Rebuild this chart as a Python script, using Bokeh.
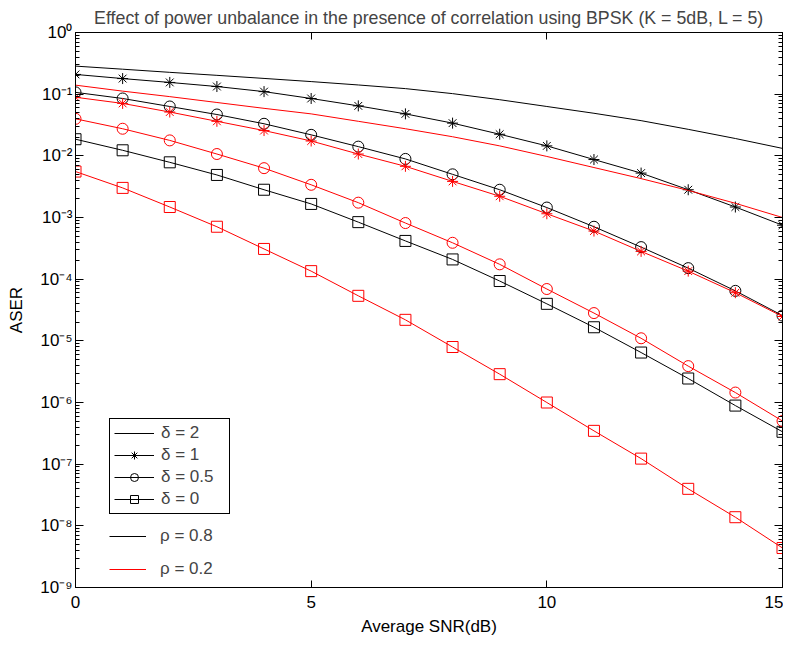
from bokeh.plotting import figure
from bokeh.models import (Range1d, LogAxis, LinearAxis, FixedTicker, Legend, LegendItem)
from bokeh.embed import file_html
from bokeh.resources import INLINE

# ---------------- data ----------------
snr_db = list(range(16))

# rho = 0.8 (black)
d2_rho08 = [0.285, 0.254, 0.226, 0.202, 0.180, 0.160, 0.141, 0.123, 0.102, 0.0813,
            0.0631, 0.0490, 0.0372, 0.0269, 0.0191, 0.0132]
d1_rho08 = [0.209, 0.179, 0.155, 0.133, 0.110, 0.0851, 0.0646, 0.0479, 0.0339, 0.0224,
            0.0145, 0.00871, 0.00525, 0.00282, 0.00148, 0.00075]
d05_rho08 = [0.107, 0.0851, 0.0631, 0.0468, 0.0331, 0.0219, 0.0141, 0.00891, 0.00501, 0.00282,
             0.00145, 0.000708, 0.000331, 0.000151, 0.0000646, 0.0000257]
d0_rho08 = [0.0186, 0.0123, 0.00785, 0.00490, 0.00282, 0.00166, 0.000841, 0.000417, 0.000209,
            0.0000933, 0.0000398, 0.0000166, 6.46e-6, 2.45e-6, 8.91e-7, 3.35e-7]

# rho = 0.2 (red)
d2_rho02 = [0.140, 0.112, 0.0912, 0.0733, 0.0589, 0.0479, 0.0363, 0.0275, 0.0204, 0.0145,
            0.00977, 0.00646, 0.00427, 0.00275, 0.00170, 0.00100]
d1_rho02 = [0.0891, 0.0708, 0.0513, 0.0363, 0.0257, 0.0174, 0.0107, 0.00676, 0.00385, 0.00221,
            0.00115, 0.000603, 0.000282, 0.000135, 0.0000603, 0.0000248]
d05_rho02 = [0.0398, 0.0275, 0.0178, 0.0107, 0.00631, 0.00339, 0.00174, 0.000813, 0.000389,
             0.000174, 0.0000692, 0.0000282, 0.0000110, 3.89e-6, 1.45e-6, 5.01e-7]
d0_rho02 = [0.00556, 0.00302, 0.00148, 0.000708, 0.000309, 0.000135, 0.0000537, 0.0000219,
            7.94e-6, 2.88e-6, 1.0e-6, 3.47e-7, 1.23e-7, 3.98e-8, 1.38e-8, 4.37e-9]

x_ticks = [0, 5, 10, 15]
y_exponents = [0, -1, -2, -3, -4, -5, -6, -7, -8, -9]
sup = {"0": "\u2070", "1": "\u00b9", "2": "\u00b2", "3": "\u00b3", "4": "\u2074", "5": "\u2075",
       "6": "\u2076", "7": "\u2077", "8": "\u2078", "9": "\u2079", "-": "\u207b"}
y_labels = ["10" + "".join(sup[c] for c in str(e)) for e in y_exponents]

title_text = "Effect of power unbalance in the presence of correlation using BPSK (K = 5dB, L = 5)"
delta_labels = ["\u03b4 = 2", "\u03b4 = 1", "\u03b4 = 0.5", "\u03b4 = 0"]
rho_labels = ["\u03c1 = 0.8", "\u03c1 = 0.2"]

FONT = "Liberation Sans"
FS = "17px"

# ---------------- figure ----------------
p = figure(width=783, height=638, y_axis_type="log",
           x_range=Range1d(0, 15), y_range=Range1d(1e-9, 1),
           output_backend="svg", toolbar_location=None,
           min_border_left=75, min_border_right=1, min_border_top=29, min_border_bottom=50)

p.title.text = title_text
p.title.align = "center"
p.title.text_font = FONT
p.title.text_font_size = "17.8px"
p.title.text_font_style = "normal"
p.title.standoff = 10
p.title.offset = 0

p.xgrid.visible = False
p.ygrid.visible = False
p.outline_line_color = "black"
p.outline_line_alpha = 1
p.background_fill_color = "white"
p.border_fill_color = "white"

decades = [10.0 ** e for e in y_exponents]
minors = [m * 10.0 ** e for e in y_exponents[1:] for m in range(2, 10)]

xa = p.xaxis[0]
xa.ticker = FixedTicker(ticks=x_ticks)
xa.axis_label = "Average SNR(dB)"
ya = p.yaxis[0]
ya.ticker = FixedTicker(ticks=decades, minor_ticks=minors)
ya.axis_label = "ASER"
ya.major_label_overrides = {v: s for v, s in zip(decades, y_labels)}

for ax in (xa, ya):
    ax.axis_line_color = "black"
    ax.major_tick_line_color = "black"
    ax.minor_tick_line_color = "black"
    ax.major_tick_out = 0
    ax.minor_tick_out = 0
    ax.major_label_text_font = FONT
    ax.major_label_text_font_size = FS
    ax.major_label_text_color = "black"
    ax.axis_label_text_font = FONT
    ax.axis_label_text_font_size = FS
    ax.axis_label_text_font_style = "normal"
    ax.axis_label_text_color = "black"
xa.major_tick_in = 7
xa.minor_tick_in = 0
xa.major_label_standoff = 8
xa.axis_label_standoff = 6
ya.major_tick_in = 8
ya.minor_tick_in = 4
ya.major_label_standoff = 3
ya.axis_label_standoff = 11

ta = LinearAxis(ticker=FixedTicker(ticks=x_ticks),
                major_label_overrides={t: "" for t in x_ticks})
ra = LogAxis(ticker=FixedTicker(ticks=decades, minor_ticks=minors),
             major_label_overrides={v: "" for v in decades})
for ax in (ta, ra):
    ax.axis_line_color = "black"
    ax.major_tick_line_color = "black"
    ax.minor_tick_line_color = "black"
    ax.major_tick_out = 0
    ax.minor_tick_out = 0
    ax.major_label_standoff = 0
ta.major_tick_in = 7
ta.minor_tick_in = 0
ra.major_tick_in = 8
ra.minor_tick_in = 4
p.add_layout(ta, "above")
p.add_layout(ra, "right")

# ---------------- series ----------------
def series(vals, color, marker):
    ln = p.line(snr_db, vals, line_color=color, line_width=1)
    rs = [ln]
    if marker is not None:
        sc = p.scatter(snr_db, vals, marker=marker, size=11, line_color=color,
                       fill_color=None, line_width=1)
        rs.append(sc)
    return rs

r_b2 = series(d2_rho08, "black", None)
r_b1 = series(d1_rho08, "black", "asterisk")
r_b05 = series(d05_rho08, "black", "circle")
r_b0 = series(d0_rho08, "black", "square")
r_r2 = series(d2_rho02, "red", None)
r_r1 = series(d1_rho02, "red", "asterisk")
r_r05 = series(d05_rho02, "red", "circle")
r_r0 = series(d0_rho02, "red", "square")

leg1 = Legend(items=[LegendItem(label=delta_labels[0], renderers=r_b2),
                     LegendItem(label=delta_labels[1], renderers=r_b1),
                     LegendItem(label=delta_labels[2], renderers=r_b05),
                     LegendItem(label=delta_labels[3], renderers=r_b0)],
              location=(34, 73), border_line_color="black", border_line_width=1,
              border_line_alpha=1, background_fill_color="white", background_fill_alpha=1,
              padding=4, spacing=2, margin=0, glyph_width=40, glyph_height=20,
              label_height=20, label_width=64, label_standoff=7,
              label_text_font=FONT, label_text_font_size=FS)
leg2 = Legend(items=[LegendItem(label=rho_labels[0], renderers=r_b2),
                     LegendItem(label=rho_labels[1], renderers=r_r2)],
              location=(34, 8), border_line_alpha=0, background_fill_alpha=0,
              padding=0, spacing=13, margin=0, glyph_width=37, glyph_height=20,
              label_height=20, label_standoff=14,
              label_text_font=FONT, label_text_font_size=FS)
p.add_layout(leg1)
p.add_layout(leg2)

open("out.html", "w").write(file_html(p, INLINE))
